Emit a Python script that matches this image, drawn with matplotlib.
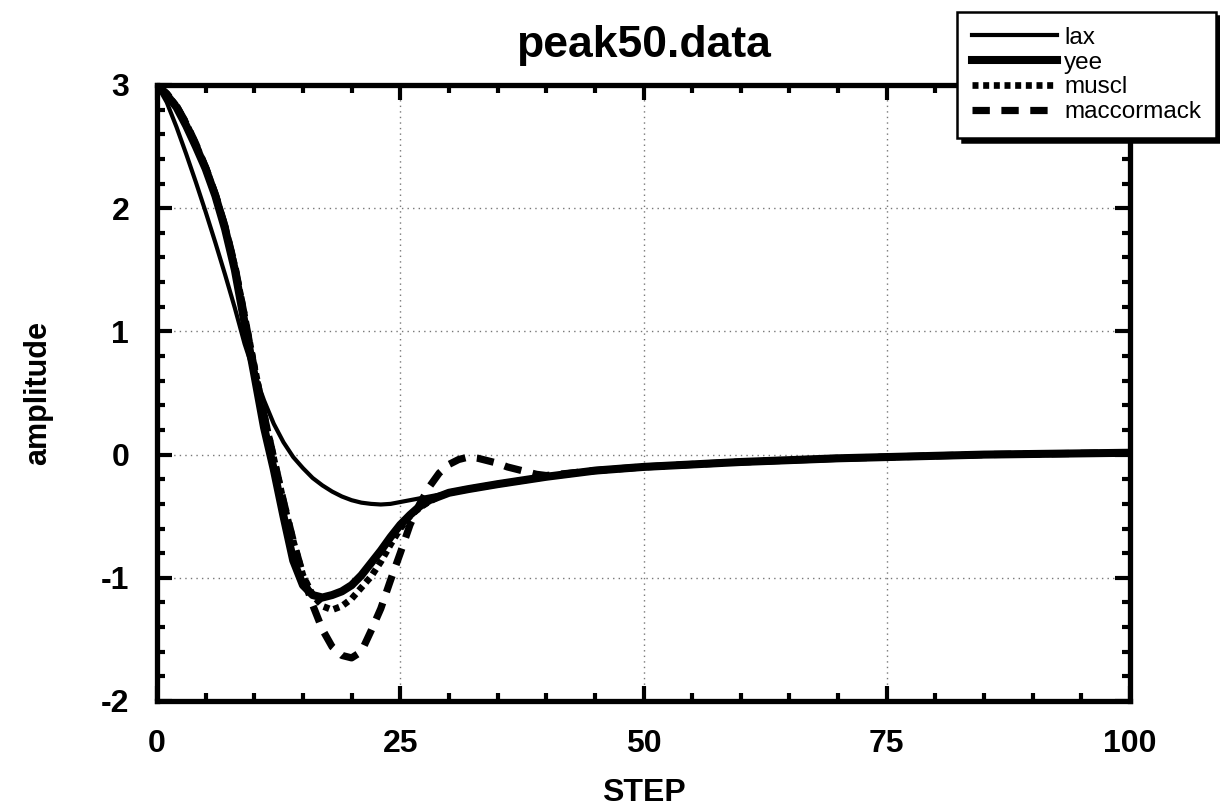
import matplotlib
matplotlib.use("Agg")
import matplotlib.pyplot as plt
from matplotlib.ticker import MultipleLocator

plt.rcParams['font.family'] = ['Liberation Sans', 'DejaVu Sans']
plt.rcParams['axes.unicode_minus'] = False

# ---- data ----
head_steps = list(range(0, 31))
lax_head = [3.0, 2.86, 2.66, 2.44, 2.21, 1.97, 1.72, 1.46, 1.19, 0.9, 0.66,
            0.44, 0.25, 0.1, -0.02, -0.11, -0.19, -0.25, -0.3, -0.34, -0.37,
            -0.39, -0.4, -0.405, -0.4, -0.385, -0.37, -0.355, -0.34, -0.325, -0.31]
yee_head = [3.0, 2.92, 2.82, 2.67, 2.5, 2.32, 2.1, 1.83, 1.5, 1.07, 0.65,
            0.22, -0.12, -0.5, -0.86, -1.06, -1.14, -1.16, -1.14, -1.11, -1.06,
            -0.98, -0.88, -0.78, -0.67, -0.57, -0.49, -0.42, -0.37, -0.34, -0.31]
muscl_head = [3.0, 2.93, 2.83, 2.69, 2.52, 2.33, 2.11, 1.85, 1.53, 1.13, 0.72,
              0.33, -0.03, -0.38, -0.7, -0.98, -1.14, -1.23, -1.26, -1.23, -1.17,
              -1.08, -0.99, -0.87, -0.73, -0.6, -0.5, -0.43, -0.38, -0.34, -0.31]
mac_steps = list(range(0, 41))
mac_head = [3.0, 2.93, 2.83, 2.69, 2.52, 2.33, 2.11, 1.85, 1.53, 1.12, 0.7,
            0.32, -0.03, -0.38, -0.7, -0.98, -1.22, -1.42, -1.56, -1.63, -1.65,
            -1.6, -1.43, -1.25, -1.02, -0.8, -0.57, -0.4, -0.26, -0.15, -0.08,
            -0.04, -0.02, -0.03, -0.05, -0.07, -0.1, -0.12, -0.14, -0.16, -0.17]
tail_steps = [32, 35, 40, 45, 50, 55, 60, 65, 70, 75, 80, 85, 90, 95, 100]
tail_amp = [-0.28, -0.24, -0.18, -0.13, -0.1, -0.08, -0.06, -0.045, -0.03,
            -0.02, -0.01, 0.0, 0.005, 0.01, 0.015]

labels = ["lax", "yee", "muscl", "maccormack"]
x_ticks = [0, 25, 50, 75, 100]
y_ticks = [-2, -1, 0, 1, 2, 3]

# ---- build series ----
lax_x = head_steps + tail_steps
lax_y = lax_head + tail_amp
yee_x = head_steps + tail_steps
yee_y = yee_head + tail_amp
muscl_x = head_steps + tail_steps
muscl_y = muscl_head + tail_amp
mac_x = mac_steps + [s for s in tail_steps if s > 40]
mac_y = mac_head + [a for s, a in zip(tail_steps, tail_amp) if s > 40]

fig = plt.figure(figsize=(12.2, 8.09), dpi=100)
ax = fig.add_axes([157/1220, 1 - 701/809, (1130-157)/1220, (701-85)/809])

ax.plot(lax_x, lax_y, color='black', lw=3.0, label=labels[0])
ax.plot(yee_x, yee_y, color='black', lw=5.8, label=labels[1])
ax.plot(muscl_x, muscl_y, color='black', lw=4.8, linestyle=(0, (0.9, 0.7)), label=labels[2])
ax.plot(mac_x, mac_y, color='black', lw=5.2, linestyle=(0, (2.4, 1.6)), label=labels[3])

ax.set_xlim(0, 100)
ax.set_ylim(-2, 3)
ax.set_xticks(x_ticks)
ax.set_yticks(y_ticks)
ax.xaxis.set_minor_locator(MultipleLocator(5))
ax.yaxis.set_minor_locator(MultipleLocator(0.2))
ax.grid(True, which='major', linestyle=(0, (1, 3)), color='#777777', linewidth=1.0)

for sp in ax.spines.values():
    sp.set_linewidth(3.8)
ax.tick_params(which='both', direction='in', top=True, right=True, width=3.0)
ax.tick_params(which='major', length=11)
ax.tick_params(axis='x', which='major', pad=20)
ax.tick_params(axis='y', which='major', pad=20)
ax.tick_params(which='minor', length=6)
for lab in ax.get_xticklabels() + ax.get_yticklabels():
    lab.set_fontsize(23)
    lab.set_fontweight('bold')

ax.set_title("peak50.data", fontsize=32, fontweight='bold', pad=20)
ax.set_xlabel("STEP", fontsize=23, fontweight='bold', labelpad=14)
ax.set_ylabel("amplitude", fontsize=22, fontweight='bold', labelpad=34)

leg = fig.legend(loc='upper right', bbox_to_anchor=(1216/1220, 1 - 12/809),
                 bbox_transform=fig.transFigure, fontsize=17.5, frameon=True,
                 fancybox=False, shadow={'color': 'black', 'alpha': 1, 'ox': 3, 'oy': -3},
                 handlelength=3.5, handletextpad=0.3, labelspacing=0.12,
                 borderpad=0.6, borderaxespad=0)
leg.get_frame().set_edgecolor('black')
leg.get_frame().set_linewidth(1.8)
leg.get_frame().set_alpha(1)

fig.savefig("out.png", dpi=100)
